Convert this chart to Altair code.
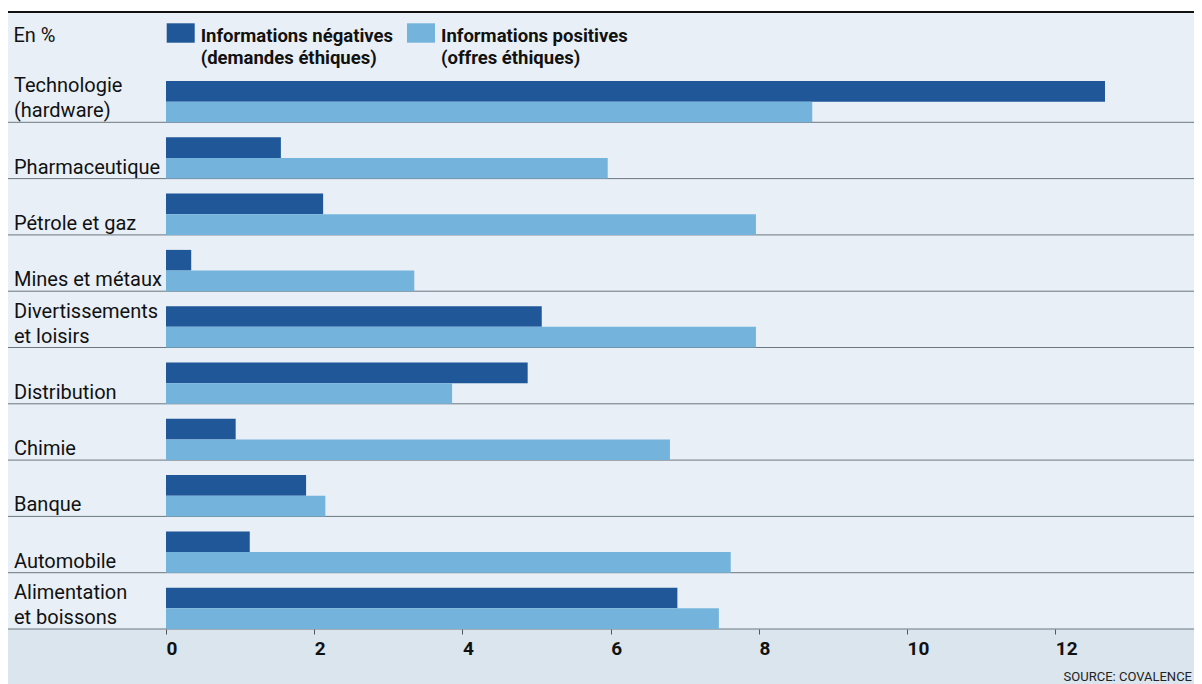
import altair as alt
import pandas as pd

# ---------------- data ----------------
categories = [
    "Technologie\n(hardware)",
    "Pharmaceutique",
    "Pétrole et gaz",
    "Mines et métaux",
    "Divertissements\net loisirs",
    "Distribution",
    "Chimie",
    "Banque",
    "Automobile",
    "Alimentation\net boissons",
]
negatives = [12.67, 1.55, 2.12, 0.34, 5.07, 4.88, 0.94, 1.89, 1.13, 6.90]
positives = [8.72, 5.96, 7.96, 3.35, 7.96, 3.86, 6.80, 2.15, 7.62, 7.46]
series = [
    "Informations négatives\n(demandes éthiques)",
    "Informations positives\n(offres éthiques)",
]
colors = ["#1f5799", "#74b4dc"]
tick_values = [0, 2, 4, 6, 8, 10, 12]
unit_label = "En %"
source_label = "SOURCE: COVALENCE"

# ---------------- layout / style ----------------
W, H = 1186, 676
FONT = "Roboto, Liberation Sans, sans-serif"
BG = "#e8eff6"
BG_AXIS = "#dae5ee"
ROW_TOP, ROW_BOTTOM = 58, 621
LINE_H = 25

rows = []
for c, n, p in zip(categories, negatives, positives):
    rows.append({"cat": c, "serie": series[0], "val": n})
    rows.append({"cat": c, "serie": series[1], "val": p})
df = pd.DataFrame(rows)
cat_df = pd.DataFrame({"cat": categories})
one = pd.DataFrame({"a": [0]})

xscale = alt.Scale(domain=[-2.132, 13.871], nice=False, zero=False)
yscale = alt.Scale(domain=categories, range=[ROW_TOP, ROW_BOTTOM], paddingInner=0, paddingOuter=0)

bg_axis = alt.Chart(one).mark_rect(color=BG_AXIS).encode(
    x=alt.value(0), x2=alt.value(W), y=alt.value(ROW_BOTTOM), y2=alt.value(H)
)
bg_main = alt.Chart(one).mark_rect(color=BG).encode(
    x=alt.value(0), x2=alt.value(W), y=alt.value(5), y2=alt.value(ROW_BOTTOM)
)
top_rule = alt.Chart(one).mark_rule(color="#111111", strokeWidth=2).encode(
    x=alt.value(0), x2=alt.value(W), y=alt.value(4)
)

bars = alt.Chart(df).mark_bar().encode(
    x=alt.X(
        "val:Q",
        scale=xscale,
        title=None,
        axis=alt.Axis(
            orient="bottom",
            offset=ROW_BOTTOM - H,
            zindex=2,
            values=tick_values,
            format="d",
            domain=False,
            grid=False,
            ticks=True,
            tickSize=5,
            tickColor="#555555",
            labelFont=FONT,
            labelFontWeight="bold",
            labelFontSize=19,
            labelColor="#111111",
            labelAlign="left",
            labelPadding=5,
            labelFlush=False,
            labelOverlap=False,
        ),
    ),
    y=alt.Y("cat:N", scale=yscale, axis=None, sort=categories),
    yOffset=alt.YOffset(
        "serie:N",
        scale=alt.Scale(domain=series, paddingInner=0, paddingOuter=0.363, align=1),
    ),
    color=alt.Color("serie:N", scale=alt.Scale(domain=series, range=colors), legend=None),
)

row_lines = alt.Chart(cat_df).mark_rule(color="#6b7781", strokeWidth=1).encode(
    y=alt.Y("cat:N", scale=yscale, axis=None, sort=categories, bandPosition=1),
    x=alt.value(0),
    x2=alt.value(W),
)


def label_layer(two_lines):
    expr = "indexof(datum.cat, '\\n') >= 0"
    if not two_lines:
        expr = "indexof(datum.cat, '\\n') < 0"
    return alt.Chart(cat_df).transform_filter(expr).mark_text(
        align="left", baseline="alphabetic", font=FONT, fontSize=20, lineBreak="\n",
        lineHeight=LINE_H, color="#111111", dy=-5 - (LINE_H if two_lines else 0),
    ).encode(
        y=alt.Y("cat:N", scale=yscale, axis=None, sort=categories, bandPosition=1),
        x=alt.value(6),
        text="cat:N",
    )


legend_layers = []
legend_x = [158.7, 399.0]
for i, s in enumerate(series):
    ldf = pd.DataFrame({"t": [s]})
    legend_layers.append(
        alt.Chart(ldf).mark_rect(color=colors[i]).encode(
            x=alt.value(legend_x[i]), x2=alt.value(legend_x[i] + 28),
            y=alt.value(15.3), y2=alt.value(34.7),
        )
    )
    legend_layers.append(
        alt.Chart(ldf).mark_text(
            align="left", baseline="alphabetic", font=FONT, fontSize=18.5, fontWeight="bold",
            lineBreak="\n", lineHeight=22.3, color="#111111",
        ).encode(x=alt.value(legend_x[i] + 34), y=alt.value(33.7), text="t:N")
    )

unit_text = alt.Chart(pd.DataFrame({"t": [unit_label]})).mark_text(
    align="left", baseline="alphabetic", font=FONT, fontSize=20, color="#111111"
).encode(x=alt.value(5.5), y=alt.value(33.7), text="t:N")

source_text = alt.Chart(pd.DataFrame({"t": [source_label]})).mark_text(
    align="right", baseline="alphabetic", font=FONT, fontSize=13, color="#222222"
).encode(x=alt.value(W - 2), y=alt.value(673), text="t:N")

chart = alt.layer(
    bg_axis, bg_main, top_rule, row_lines, bars, label_layer(False), label_layer(True),
    unit_text, source_text, *legend_layers,
).properties(
    width=W, height=H, autosize=alt.AutoSizeParams(type="none"), padding=0,
).configure_view(stroke=None)

chart.save("out.html", embed_options={"renderer": "svg", "actions": False})
